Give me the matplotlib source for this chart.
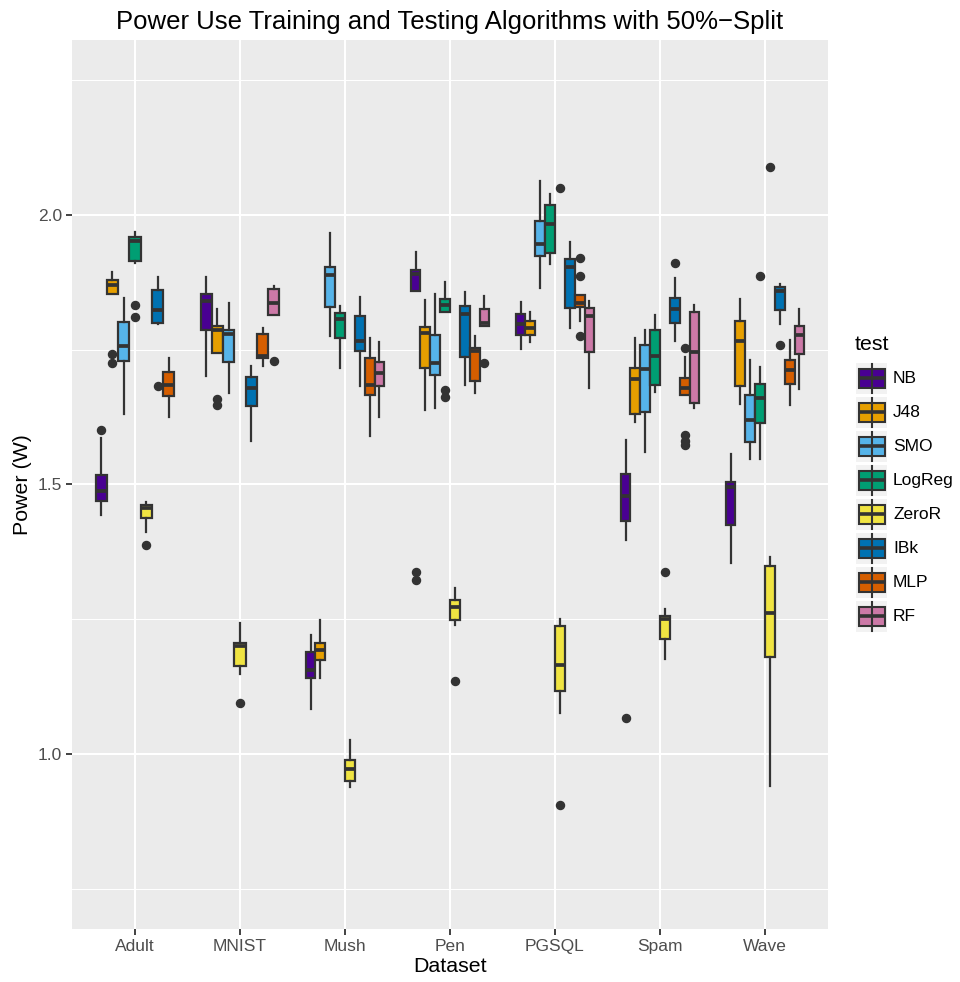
import matplotlib
matplotlib.use("Agg")
import matplotlib.pyplot as plt
from matplotlib.patches import Rectangle

plt.rcParams['font.family'] = ['Liberation Sans', 'DejaVu Sans']

# datasets and algorithms
datasets = ["Adult", "MNIST", "Mush", "Pen", "PGSQL", "Spam", "Wave"]
algos = ["NB", "J48", "SMO", "LogReg", "ZeroR", "IBk", "MLP", "RF"]
colours = ["#490092", "#E69F00", "#56B4E9", "#009E73", "#F0E442", "#0072B2", "#D55E00", "#CC79A7"]

# box statistics, rows = datasets, columns = algos (None = missing)
med = [
    [1.488, 1.870, 1.757, 1.952, 1.457, 1.824, 1.684, None],
    [1.840, 1.787, 1.780, None, 1.200, 1.679, 1.738, 1.837],
    [1.156, 1.192, 1.889, 1.808, 0.972, 1.766, 1.685, 1.707],
    [1.890, 1.782, 1.726, 1.833, 1.273, 1.816, 1.747, 1.799],
    [1.797, 1.791, 1.947, 1.983, 1.165, 1.903, 1.836, 1.813],
    [1.478, 1.696, 1.715, 1.738, 1.250, 1.825, 1.679, 1.746],
    [1.495, 1.766, 1.619, 1.661, 1.261, 1.859, 1.713, 1.778],
]
q1 = [
    [1.470, 1.853, 1.730, 1.915, 1.438, 1.799, 1.664, None],
    [1.786, 1.744, 1.727, None, 1.164, 1.645, 1.735, 1.814],
    [1.140, 1.174, 1.830, 1.772, 0.949, 1.747, 1.666, 1.682],
    [1.860, 1.717, 1.703, 1.821, 1.248, 1.736, 1.693, 1.794],
    [1.777, 1.778, 1.925, 1.929, 1.116, 1.827, 1.829, 1.746],
    [1.433, 1.631, 1.635, 1.684, 1.213, 1.800, 1.667, 1.651],
    [1.424, 1.682, 1.579, 1.615, 1.180, 1.824, 1.687, 1.743],
]
q3 = [
    [1.518, 1.880, 1.801, 1.959, 1.462, 1.861, 1.708, None],
    [1.853, 1.794, 1.787, None, 1.206, 1.700, 1.780, 1.862],
    [1.189, 1.205, 1.903, 1.818, 0.989, 1.813, 1.734, 1.728],
    [1.898, 1.793, 1.778, 1.844, 1.285, 1.832, 1.754, 1.825],
    [1.816, 1.803, 1.989, 2.019, 1.238, 1.918, 1.851, 1.828],
    [1.520, 1.717, 1.759, 1.786, 1.256, 1.846, 1.698, 1.820],
    [1.505, 1.803, 1.667, 1.687, 1.349, 1.867, 1.731, 1.795],
]
whislo = [
    [1.444, 1.853, 1.630, 1.911, 1.412, 1.797, 1.625, None],
    [1.701, 1.744, 1.669, None, 1.148, 1.580, 1.720, 1.814],
    [1.084, 1.140, 1.775, 1.717, 0.938, 1.682, 1.590, 1.626],
    [1.860, 1.639, 1.642, 1.821, 1.240, 1.685, 1.670, 1.794],
    [1.751, 1.764, 1.865, 1.910, 1.076, 1.791, 1.803, 1.679],
    [1.397, 1.616, 1.560, 1.672, 1.177, 1.766, 1.667, 1.642],
    [1.354, 1.650, 1.548, 1.547, 0.941, 1.798, 1.647, 1.677],
]
whishi = [
    [1.587, 1.894, 1.846, 1.969, 1.468, 1.885, 1.734, None],
    [1.885, 1.826, 1.837, None, 1.243, 1.720, 1.791, 1.868],
    [1.221, 1.249, 1.966, 1.831, 1.025, 1.848, 1.771, 1.764],
    [1.931, 1.842, 1.854, 1.875, 1.307, 1.857, 1.775, 1.850],
    [1.839, 1.821, 2.063, 2.040, 1.250, 1.950, 1.851, 1.841],
    [1.582, 1.771, 1.786, 1.814, 1.268, 1.884, 1.737, 1.833],
    [1.556, 1.844, 1.732, 1.718, 1.365, 1.872, 1.769, 1.826],
]
outliers = [
    [[1.602], [1.743, 1.726], [], [1.833, 1.810], [1.388], [1.682], [], []],
    [[], [1.658, 1.648], [], [], [1.095], [], [], [1.729]],
    [[], [], [], [], [], [], [], []],
    [[1.338, 1.323], [], [], [1.676, 1.663], [1.136], [], [], [1.726]],
    [[], [], [], [], [2.050, 0.905], [], [1.921, 1.887, 1.775], []],
    [[1.066], [], [], [], [1.337], [1.912], [1.754, 1.592, 1.580, 1.574], []],
    [[], [], [], [1.887], [2.090], [1.759], [], []],
]

W, H = 960, 982
fig = plt.figure(figsize=(W / 100, H / 100), dpi=100)
ax = fig.add_axes([72 / W, 1 - 929 / H, (828 - 72) / W, (929 - 40) / H])
ax.set_facecolor("#EBEBEB")

dark = "#333333"
for i, ds in enumerate(datasets):
    present = [k for k in range(len(algos)) if med[i][k] is not None]
    n = len(present)
    w = 0.75 / n
    stats, pos, cols = [], [], []
    for j, k in enumerate(present):
        stats.append(dict(med=med[i][k], q1=q1[i][k], q3=q3[i][k],
                          whislo=whislo[i][k], whishi=whishi[i][k],
                          fliers=outliers[i][k]))
        pos.append(i + 1 - 0.375 + w * (j + 0.5))
        cols.append(colours[k])
    bp = ax.bxp(stats, positions=pos, widths=w, patch_artist=True, showcaps=False,
                boxprops=dict(edgecolor=dark, linewidth=1.6),
                whiskerprops=dict(color=dark, linewidth=1.6),
                medianprops=dict(color=dark, linewidth=2.7, solid_capstyle="butt"),
                flierprops=dict(marker="o", markerfacecolor=dark, markeredgecolor=dark,
                                markersize=5.8, linestyle="none"),
                manage_ticks=False)
    for patch, c in zip(bp["boxes"], cols):
        patch.set_facecolor(c)

ax.set_xlim(0.4, 7.6)
ax.set_ylim(0.675, 2.325)
ax.set_xticks(range(1, 8))
ax.set_xticklabels(datasets)
ax.set_yticks([1.0, 1.5, 2.0])
ax.set_yticklabels(["1.0", "1.5", "2.0"])
ax.set_yticks([0.75, 1.25, 1.75, 2.25], minor=True)
ax.grid(True, which="major", color="white", linewidth=1.5)
ax.grid(True, which="minor", axis="y", color="white", linewidth=0.75)
ax.set_axisbelow(True)
ax.tick_params(which="major", length=4, width=1.3, color=dark, labelsize=12.5,
               labelcolor="#4D4D4D", pad=3)
ax.tick_params(which="minor", length=0)
for s in ax.spines.values():
    s.set_visible(False)

ax.set_xlabel("Dataset", fontsize=15.4, labelpad=2)
ax.set_ylabel("Power (W)", fontsize=15.4, labelpad=4)
ax.set_title("Power Use Training and Testing Algorithms with 50%\u2212Split",
             fontsize=18.5, pad=8)

# legend drawn in pixel coordinates
lax = fig.add_axes([0, 0, 1, 1], zorder=5)
lax.set_xlim(0, W)
lax.set_ylim(H, 0)
lax.axis("off")
lax.text(855, 345, "test", fontsize=15.4, ha="left", va="center")
for i, (a, c) in enumerate(zip(algos, colours)):
    top = 362.7 + 34 * i
    lax.add_patch(Rectangle((855.7, top), 31.6, 31.3, facecolor="#F2F2F2", edgecolor="none"))
    lax.plot([871.5, 871.5], [top + 1, top + 30], color=dark, lw=1.5)
    lax.add_patch(Rectangle((858.5, top + 6.5), 26, 18.3, facecolor=c, edgecolor=dark, lw=1.5))
    lax.plot([858.5, 884.5], [top + 15.6, top + 15.6], color=dark, lw=2.6, solid_capstyle="butt")
    lax.text(893, top + 15.6, a, fontsize=12.5, ha="left", va="center")

fig.savefig("out.png", dpi=100)
